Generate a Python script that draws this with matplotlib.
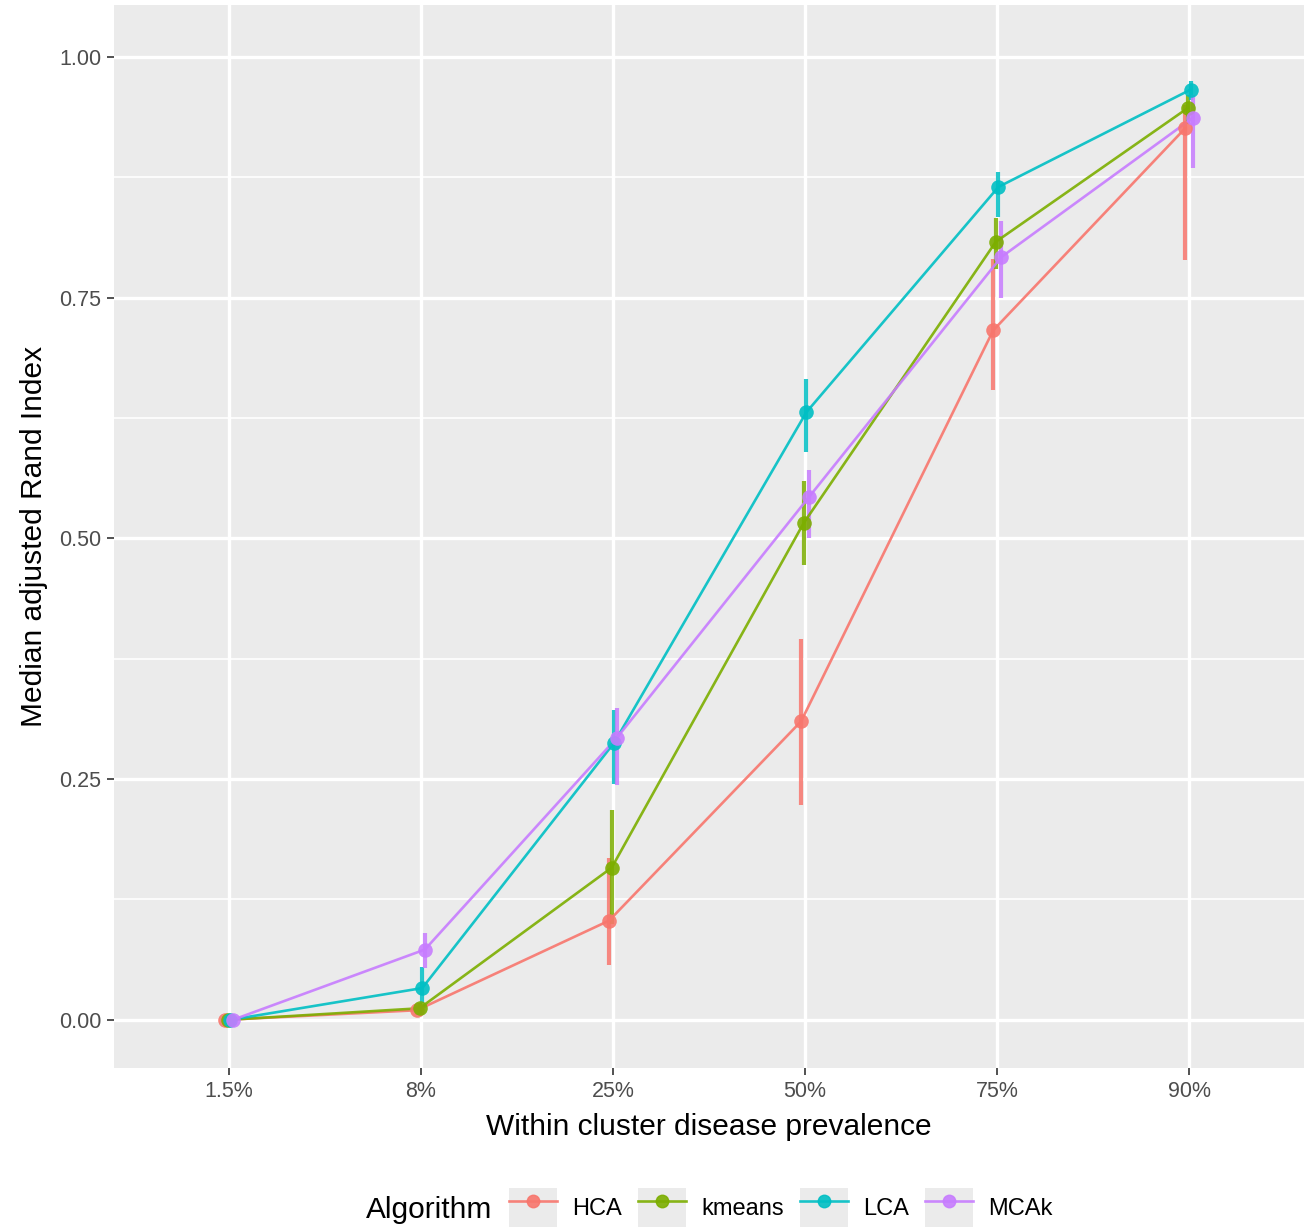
import matplotlib
matplotlib.use("Agg")
import matplotlib.pyplot as plt
from matplotlib.lines import Line2D
from matplotlib.patches import Rectangle
from matplotlib.legend_handler import HandlerTuple
import numpy as np

plt.rcParams['font.family'] = ['Liberation Sans', 'DejaVu Sans']

categories = ["1.5%", "8%", "25%", "50%", "75%", "90%"]
algorithms = ["HCA", "kmeans", "LCA", "MCAk"]
colors = ["#F8766D", "#7CAE00", "#00BFC4", "#C77CFF"]

hca_med = [0.000, 0.010, 0.103, 0.310, 0.716, 0.926]
hca_lo = [0.000, 0.005, 0.057, 0.223, 0.654, 0.789]
hca_hi = [0.000, 0.015, 0.168, 0.395, 0.790, 0.950]

kmeans_med = [0.000, 0.012, 0.158, 0.516, 0.808, 0.947]
kmeans_lo = [0.000, 0.006, 0.100, 0.472, 0.780, 0.930]
kmeans_hi = [0.000, 0.018, 0.218, 0.560, 0.833, 0.960]

lca_med = [0.000, 0.033, 0.288, 0.631, 0.865, 0.966]
lca_lo = [0.000, 0.018, 0.245, 0.590, 0.834, 0.955]
lca_hi = [0.000, 0.055, 0.322, 0.665, 0.881, 0.975]

mcak_med = [0.000, 0.073, 0.293, 0.543, 0.792, 0.937]
mcak_lo = [0.000, 0.054, 0.244, 0.500, 0.750, 0.885]
mcak_hi = [0.000, 0.090, 0.324, 0.571, 0.830, 0.960]

meds = [hca_med, kmeans_med, lca_med, mcak_med]
los = [hca_lo, kmeans_lo, lca_lo, mcak_lo]
his = [hca_hi, kmeans_hi, lca_hi, mcak_hi]

fig = plt.figure(figsize=(13.13, 12.29), dpi=100)
ax = fig.add_axes([0.0865, 0.131, 0.907, 0.865])
ax.set_facecolor("#EBEBEB")
for s in ax.spines.values():
    s.set_visible(False)

x = np.arange(len(categories))
dodge = 0.055
offsets = [(-3 + 2 * i) * dodge / 8 for i in range(4)]

for i, alg in enumerate(algorithms):
    xi = x + offsets[i]
    med = np.array(meds[i]); lo = np.array(los[i]); hi = np.array(his[i])
    ax.vlines(xi, lo, hi, color=colors[i], lw=3.0, alpha=0.85, zorder=3)
    ax.plot(xi, med, color=colors[i], lw=1.9, alpha=0.9, zorder=4)
    ax.plot(xi, med, 'o', color=colors[i], ms=10.5, alpha=0.9, zorder=5, mec='none')

ax.set_xlim(-0.6, 5.6)
ax.set_ylim(-0.05, 1.054)
ax.set_xticks(x)
ax.set_xticklabels(categories)
ax.set_yticks([0, 0.25, 0.5, 0.75, 1.0])
ax.set_yticklabels(["0.00", "0.25", "0.50", "0.75", "1.00"])
ax.set_yticks([0.125, 0.375, 0.625, 0.875], minor=True)
ax.grid(True, which='major', color='white', lw=2.4, zorder=0)
ax.grid(True, which='minor', axis='y', color='white', lw=1.2, zorder=0)
ax.set_axisbelow(True)
ax.tick_params(axis='both', which='major', length=5, width=1.2, color='#333333',
               labelsize=15.5, labelcolor='#4D4D4D', pad=4)
ax.tick_params(axis='both', which='minor', length=0)
ax.set_xlabel("Within cluster disease prevalence", fontsize=21.5, color='black', labelpad=8)
ax.set_ylabel("Median adjusted Rand Index", fontsize=21.5, color='black', labelpad=8)

handles = []
for c in colors:
    bg = Rectangle((0, 0), 1, 1, facecolor="#EBEBEB", edgecolor='none')
    ln = Line2D([0], [0], color=c, lw=1.9, marker='o', ms=9, alpha=0.9)
    handles.append((bg, ln))
fig.text(0.279, 0.0155, "Algorithm", fontsize=21.5, ha='left', va='center')
fig.legend(handles, algorithms, handler_map={tuple: HandlerTuple(ndivide=1, pad=0)},
           loc='center left', bbox_to_anchor=(0.3806, 0.0175), ncol=4, frameon=False,
           fontsize=17, handlelength=2.03, handleheight=2.2, columnspacing=0.68,
           handletextpad=0.64, borderaxespad=0)

fig.savefig("out.png", dpi=100, facecolor='white')
